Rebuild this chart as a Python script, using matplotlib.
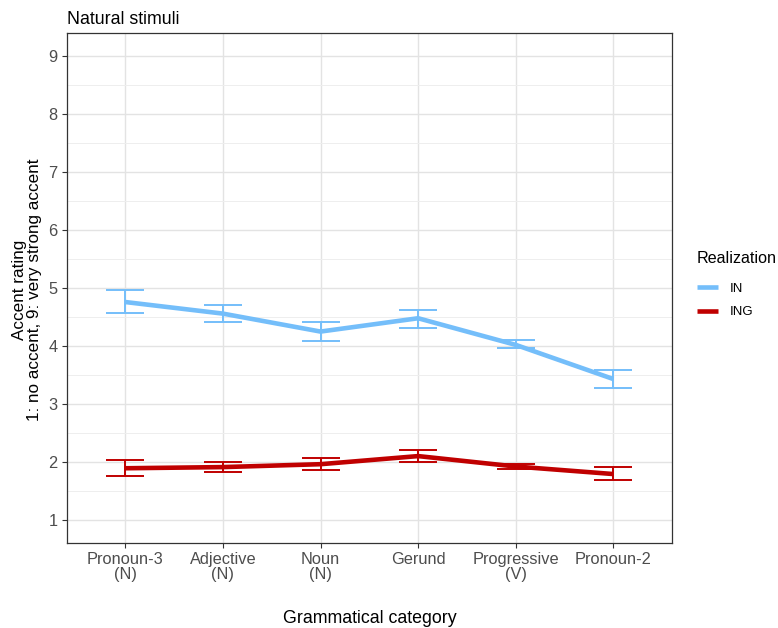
import matplotlib.pyplot as plt
import numpy as np

categories = ['Pronoun-3\n(N)', 'Adjective\n(N)', 'Noun\n(N)', 'Gerund', 'Progressive\n(V)', 'Pronoun-2']
in_mean = [4.76, 4.56, 4.25, 4.48, 4.02, 3.43]
in_low = [4.57, 4.42, 4.08, 4.32, 3.96, 3.27]
in_high = [4.96, 4.71, 4.42, 4.63, 4.10, 3.59]
ing_mean = [1.89, 1.91, 1.96, 2.10, 1.92, 1.79]
ing_low = [1.75, 1.82, 1.86, 1.99, 1.88, 1.69]
ing_high = [2.03, 1.99, 2.07, 2.20, 1.96, 1.91]

plt.rcParams['font.family'] = ['Liberation Sans', 'DejaVu Sans']

fig = plt.figure(figsize=(7.78, 6.28), dpi=100)
ax = fig.add_axes([0.0857, 0.1354, 0.778, 0.8116])

x = np.arange(1, len(categories) + 1)
series = [('IN', in_mean, in_low, in_high, '#74BEFA'),
          ('ING', ing_mean, ing_low, ing_high, '#C00000')]
for name, m, lo, hi, col in series:
    m = np.array(m)
    err = [m - np.array(lo), np.array(hi) - m]
    ax.errorbar(x, m, yerr=err, fmt='none', ecolor=col, elinewidth=1.4,
                capsize=14, capthick=1.4, zorder=3)
    ax.plot(x, m, color=col, lw=3.3, solid_capstyle='butt', label=name, zorder=4)

ax.set_xlim(0.4, 6.6)
ax.set_ylim(0.6, 9.4)
ax.set_xticks(x)
ax.set_xticklabels(categories, linespacing=1.0)
ax.set_yticks(range(1, 10))
ax.set_yticks(np.arange(1.5, 9.5, 1), minor=True)
ax.grid(which='major', color='#E3E3E3', lw=1.0)
ax.grid(which='minor', axis='y', color='#EEEEEE', lw=0.7)
ax.set_axisbelow(True)
for s in ax.spines.values():
    s.set_color('#333333')
    s.set_linewidth(0.9)
ax.tick_params(which='major', colors='#333333', labelcolor='#4D4D4D', labelsize=11.8, length=3.5, pad=3)
ax.tick_params(which='minor', length=0)

ax.set_xlabel('Grammatical category', fontsize=12.8, labelpad=20)
fig.text(0.0345, 1 - 290 / 628, 'Accent rating\n1: no accent, 9: very strong accent',
         rotation=90, ha='center', va='center', fontsize=12.3, linespacing=1.0)
ax.set_title('Natural stimuli', loc='left', fontsize=12.8, pad=7)

leg = ax.legend(title='Realization', loc='upper left', bbox_to_anchor=(697 / 778, 1 - 251 / 628),
                bbox_transform=fig.transFigure, frameon=False, fontsize=9.5, title_fontsize=11.6,
                handlelength=1.6, handletextpad=0.9, labelspacing=0.85, borderpad=0,
                borderaxespad=0, alignment='left')
# a little more room between the legend title and its entries
leg._legend_box.sep = 12

fig.savefig('out.png', dpi=100)
